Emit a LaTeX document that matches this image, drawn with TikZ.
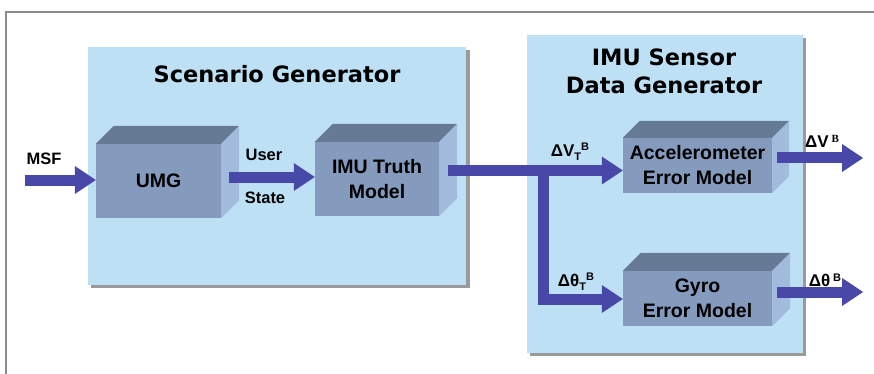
\documentclass[tikz,border=0pt]{standalone}
\usepackage{fontspec}
\setmainfont{Liberation Sans}
\newfontfamily\titlefont{DejaVu Sans}
\newfontfamily\serifB{Liberation Serif}
\usetikzlibrary{arrows.meta}
\definecolor{panel}{HTML}{BEE0F5}
\definecolor{front}{HTML}{859BBE}
\definecolor{topf}{HTML}{667A96}
\definecolor{sidef}{HTML}{A2BADC}
\definecolor{arr}{HTML}{4848A8}
\definecolor{framec}{HTML}{8C8C8C}
\definecolor{shadowc}{HTML}{9A9A9A}
\newcommand\cubefaces[2]{%
  \fill[topf] (#1.north west) -- ++(#2,-#2) -- ([shift={(#2,-#2)}]#1.north east) -- (#1.north east) -- cycle;
  \fill[sidef] (#1.north east) -- ++(#2,-#2) -- ([shift={(#2,-#2)}]#1.south east) -- (#1.south east) -- cycle;
}
\tikzset{
  panelbox/.style={fill=panel, inner sep=0pt, anchor=north west},
  cube/.style={fill=front, inner sep=0pt, align=center, text=black,
    font=\fontsize{19.5}{25}\selectfont\bfseries},
  title/.style={align=center, inner sep=0pt, font=\titlefont\fontsize{22.5}{28}\selectfont\bfseries},
  lbl/.style={inner sep=0pt, font=\fontsize{16.5}{18}\selectfont\bfseries},
  dlbl/.style={inner sep=0pt, font=\fontsize{17}{18}\selectfont\bfseries},
  flow/.style={draw=arr, line width=11pt, -{Triangle[length=21pt,width=28pt,line width=0pt]}},
  bus/.style={draw=arr, line width=11pt},
}
\newcommand\smallsz{\fontsize{11}{11}\selectfont}
\begin{document}
\begin{tikzpicture}[x=1pt,y=-1pt]
\useasboundingbox (0,0) rectangle (874,374);
\fill[white] (0,0) rectangle (874,374);
\draw[framec, line width=1.2pt] (6,374) -- (6,12) -- (874,12);

% panels with shadows
\fill[shadowc] (91,50) rectangle (470,288);
\node[panelbox, minimum width=378pt, minimum height=238pt] (sg) at (88,47) {};
\fill[shadowc] (530,38) rectangle (806,356);
\node[panelbox, minimum width=276pt, minimum height=318pt] (dg) at (527,35) {};

\node[title] (sgt) at (277,74) {Scenario Generator};
\node[title] (dgt) at (664,71) {IMU Sensor\\Data Generator};

% cubes
\node[cube, minimum width=125pt, minimum height=74pt] (umg) at (158.5,181) {UMG};
\cubefaces{umg}{18}
\node[cube, minimum width=124pt, minimum height=74pt] (imu) at (377,179) {IMU Truth\\Model};
\cubefaces{imu}{18}
\node[cube, minimum width=149pt, minimum height=55pt] (acc) at (697.5,165.5) {Accelerometer\\Error Model};
\cubefaces{acc}{17}
\node[cube, minimum width=149pt, minimum height=55pt] (gyro) at (697.5,298.5) {Gyro\\Error Model};
\cubefaces{gyro}{18}

% labels
\node[lbl] (msfl) at (44,158.5) {MSF};
\node[lbl] (userl) at (264,155) {User};
\node[lbl] (statel) at (265,198) {State};
\node[dlbl] (dvt) at (570,152) {ΔV\raisebox{-4pt}{\smallsz T}\raisebox{6pt}{\smallsz B}};
\node[dlbl] (dtt) at (576,282) {Δθ\raisebox{-4pt}{\smallsz T}\raisebox{6pt}{\smallsz B}};
\node[dlbl] (dvb) at (822,141) {ΔV\,\raisebox{5pt}{\serifB\smallsz B}};
\node[dlbl] (dtb) at (825,280) {Δθ\,\raisebox{5pt}{\smallsz B}};

% connectors
\coordinate (msf) at (25,180);
\draw[flow] (msf) -- (msf -| umg.west);
\coordinate (us) at (229,177);
\draw[flow] (us) -- (us -| imu.west);
\coordinate (io) at (448,170.5);
\coordinate (jct) at (543,170.5);
\draw[flow] (io) -- (io -| acc.west);
\coordinate (gb) at (543,299);
\draw[bus] (jct) -- (gb);
\draw[flow] ([xshift=-5.5pt]gb) -- (gb -| gyro.west);
\coordinate (ao) at (777,158);
\coordinate (aend) at (863,158);
\draw[flow] (ao) -- (aend);
\coordinate (go) at (777,292);
\coordinate (gend) at (863,292);
\draw[flow] (go) -- (gend);
\end{tikzpicture}
\end{document}
